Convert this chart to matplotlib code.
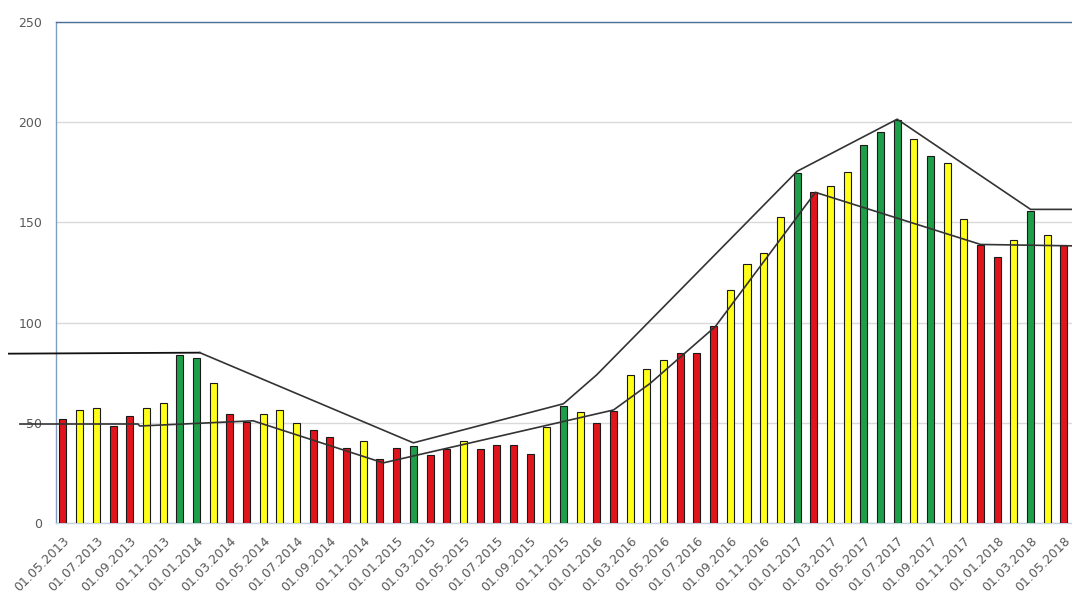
import matplotlib.pyplot as plt
import numpy as np

# monthly index values, 01.05.2013 .. 01.05.2018
months = ["01.%02d.%d" % ((m % 12) + 1, 2013 + m // 12) for m in range(4, 65)]
values = [52, 56.5, 57.5, 48.5, 53.5, 57.5, 60, 84, 82.5, 70,
          54.5, 50.5, 54.5, 56.5, 50, 46.5, 43, 37.5, 41, 32,
          37.5, 38.5, 34, 37, 41, 37, 39, 39, 34.5, 48,
          58.5, 55.5, 50, 56, 74, 77, 81.5, 85, 85, 98.5,
          116.5, 129, 134.5, 152.5, 174.5, 165, 168, 175, 188.5, 195,
          201, 191.5, 183, 179.5, 151.5, 138.5, 132.5, 141, 155.5, 143.5,
          138.5]
signal = ["r", "y", "y", "r", "r", "y", "y", "g", "g", "y",
          "r", "r", "y", "y", "y", "r", "r", "r", "y", "r",
          "r", "g", "r", "r", "y", "r", "r", "r", "r", "y",
          "g", "y", "r", "r", "y", "y", "y", "r", "r", "r",
          "y", "y", "y", "y", "g", "r", "y", "y", "g", "g",
          "g", "y", "g", "y", "y", "r", "r", "y", "g", "y",
          "r"]

# trend lines: (month position, value)
upper_x = [-3.24, 8.2, 21, 30, 32, 44, 50, 58, 60.48]
upper_y = [84.5, 85, 40, 59.5, 74, 175.5, 201.5, 156.5, 156.5]
lower_x = [-2.58, 4.5, 4.6, 11.4, 19.2, 33, 35.2, 39.1, 45.1, 55, 60.48]
lower_y = [49.4, 49.4, 48.4, 51, 30, 56.4, 69.7, 98, 165, 139, 138.3]

palette = {"r": "#e0141c", "y": "#ffff1a", "g": "#1f9e4a"}

fig = plt.figure(figsize=(10.72, 6.15), dpi=100)
ax = fig.add_axes([0.0522, 0.1496, 0.9478, 0.8146])

x = np.arange(len(values))
ax.bar(x, values, width=0.42, color=[palette[s] for s in signal],
       edgecolor="#1a1a1a", linewidth=0.8, zorder=3)

ax.plot(upper_x[:2], upper_y[:2], color="#111111", lw=1.3, clip_on=False, zorder=4)
ax.plot(upper_x[1:], upper_y[1:], color="#333333", lw=1.2, clip_on=False, zorder=4)
ax.plot(lower_x, lower_y, color="#333333", lw=1.2, clip_on=False, zorder=4)

ax.set_xlim(-0.42, 60.48)
ax.set_ylim(0, 250)
ax.set_yticks([0, 50, 100, 150, 200, 250])
ax.set_xticks(x[::2])
ax.set_xticklabels(months[::2], rotation=45, ha="right", rotation_mode="anchor")
ax.tick_params(axis="both", length=0, colors="#595959", labelsize=9)
ax.tick_params(axis="x", pad=8)
ax.tick_params(axis="y", pad=10)

ax.yaxis.grid(True, color="#d9d9d9", lw=1, zorder=0)
ax.spines["top"].set_color("#4a6f99")
ax.spines["left"].set_color("#7f9fbf")
ax.spines["bottom"].set_color("#c5d3e0")
ax.spines["right"].set_visible(False)
for s in ax.spines.values():
    s.set_linewidth(1)

plt.savefig("out.png", dpi=100)
